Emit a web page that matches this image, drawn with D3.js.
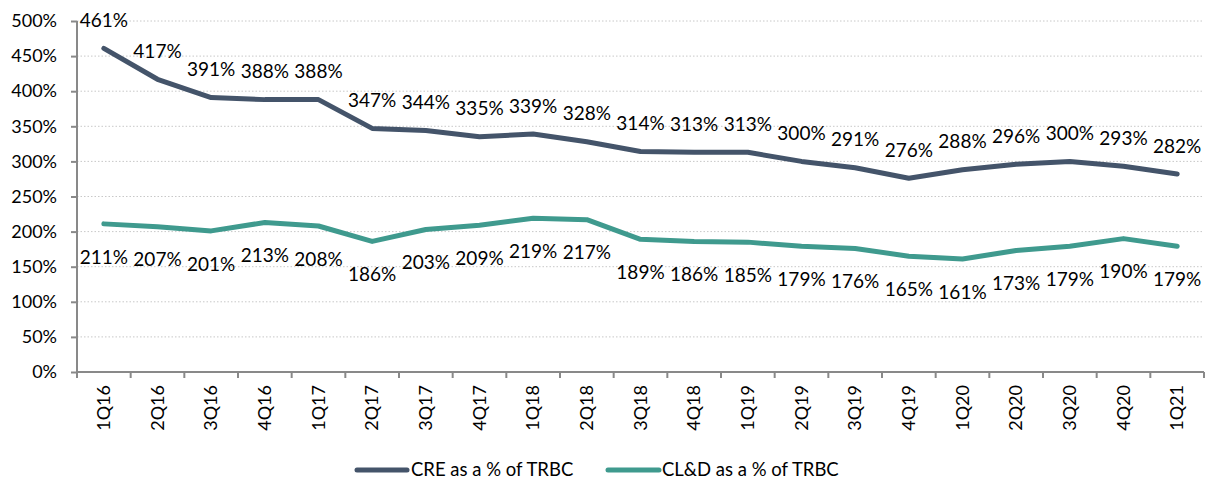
<!DOCTYPE html>
<html><head><meta charset="utf-8">
<script src="https://cdn.jsdelivr.net/npm/d3@7"></script>
<style>body{margin:0;background:#fff;} text{font-family:Lato,"Open Sans",sans-serif;fill:#000;}</style>
</head><body><svg id="c" width="1205" height="487"></svg>
<script>
const categories = ["1Q16","2Q16","3Q16","4Q16","1Q17","2Q17","3Q17","4Q17","1Q18","2Q18","3Q18","4Q18","1Q19","2Q19","3Q19","4Q19","1Q20","2Q20","3Q20","4Q20","1Q21"];
const creValues = [461,417,391,388,388,347,344,335,339,328,314,313,313,300,291,276,288,296,300,293,282];
const cldValues = [211,207,201,213,208,186,203,209,219,217,189,186,185,179,176,165,161,173,179,190,179];
const yTicks = [0,50,100,150,200,250,300,350,400,450,500];
const seriesNames = ["CRE as a % of TRBC","CL&D as a % of TRBC"];
const colors = ["#44546A","#3F9A8E"];

const svg = d3.select("#c");
const L = 77, R = 1204, T = 21, B = 372;
const x = d3.scaleBand().domain(categories).range([L, R]);
const y = d3.scaleLinear().domain([0, 500]).range([B, T]);
const cx = d => x(d) + x.bandwidth()/2;

// grid
svg.append("g").selectAll("line").data(yTicks.filter(t=>t>0)).join("line")
  .attr("x1", L).attr("x2", R).attr("y1", d=>y(d)).attr("y2", d=>y(d))
  .attr("stroke", "#c8c8c8").attr("stroke-width", 1).attr("stroke-dasharray", "1.5,2");

// y axis
const ya = svg.append("g").attr("transform", `translate(${L},0)`)
  .call(d3.axisLeft(y).tickValues(yTicks).tickFormat(d=>d+"%").tickSize(6).tickPadding(14));
ya.select(".domain").attr("stroke", "#898989").attr("stroke-width", 2).attr("d", `M0,${B}V${T}`);
ya.selectAll(".tick line").attr("stroke", "#898989").attr("stroke-width", 2);
ya.selectAll("text").attr("font-size", 18).attr("font-family", "Lato");

// x axis
const xa = svg.append("g").attr("transform", `translate(0,${B})`)
  .call(d3.axisBottom(x).tickSize(0).tickFormat(d=>d));
xa.select(".domain").attr("stroke", "#898989").attr("stroke-width", 2).attr("d", `M${L},0H${R}`);
xa.selectAll(".tick text").attr("font-size", 18).attr("font-family", "Lato")
  .attr("transform", "rotate(-90)").attr("text-anchor", "end").attr("x", -13).attr("y", 0).attr("dy", "0.35em");
// boundary ticks
svg.append("g").selectAll("line").data(categories.concat(["__end"])).join("line")
  .attr("x1", (d,i)=> i<categories.length ? x(d) : R).attr("x2", (d,i)=> i<categories.length ? x(d) : R)
  .attr("y1", B).attr("y2", B+6).attr("stroke", "#898989").attr("stroke-width", 2);

const line = d3.line().x((d,i)=>cx(categories[i])).y(d=>y(d));
[creValues, cldValues].forEach((vals, s) => {
  svg.append("path").datum(vals).attr("d", line).attr("fill","none")
    .attr("stroke", colors[s]).attr("stroke-width", 5).attr("stroke-linejoin","round").attr("stroke-linecap","round");
  svg.append("g").selectAll("text").data(vals).join("text")
    .attr("x", (d,i)=>cx(categories[i]))
    .attr("y", d => s===0 ? y(d)-28 : y(d)+33)
    .attr("dy","0.35em").attr("text-anchor","middle").attr("font-size", 19)
    .text(d=>d+"%");
});

// legend
const leg = [{x1:357,x2:407,tx:411},{x1:608,x2:659,tx:662}];
leg.forEach((l,i)=>{
  svg.append("line").attr("x1",l.x1).attr("x2",l.x2).attr("y1",470).attr("y2",470)
    .attr("stroke",colors[i]).attr("stroke-width",5).attr("stroke-linecap","round");
  svg.append("text").attr("x",l.tx).attr("y",470).attr("dy","0.35em").attr("font-size",18.5).text(seriesNames[i]);
});
</script></body></html>
